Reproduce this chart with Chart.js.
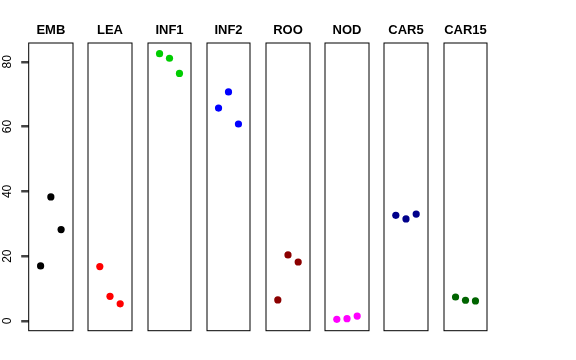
<!DOCTYPE html>
<html><head><meta charset="utf-8">
<script src="https://cdn.jsdelivr.net/npm/chart.js@4"></script>
<style>
body{margin:0;background:#fff;width:576px;height:360px;position:relative;overflow:hidden}
.p{position:absolute;top:0;height:360px}
</style></head><body>
<script>
// ---- data ----
const categories = ['EMB','LEA','INF1','INF2','ROO','NOD','CAR5','CAR15'];
const replicates = [1, 2, 3];
const valEMB   = [17.0, 38.3, 28.2];
const valLEA   = [16.8, 7.6, 5.3];
const valINF1  = [82.5, 81.1, 76.4];
const valINF2  = [65.7, 70.7, 60.8];
const valROO   = [6.5, 20.4, 18.2];
const valNOD   = [0.5, 0.7, 1.5];
const valCAR5  = [32.6, 31.5, 33.0];
const valCAR15 = [7.4, 6.4, 6.2];
const yTicks = [0, 20, 40, 60, 80];
const series = [valEMB, valLEA, valINF1, valINF2, valROO, valNOD, valCAR5, valCAR15];
const colors = ['#000000','#FF0000','#00CD00','#0000FF','#8B0000','#FF00FF','#00008B','#006400'];

// ---- layout ----
const panelLeft0 = 28.7, panelStep = 59.2, panelW = 44.6;
const boxPlugin = {
  id: 'box',
  afterDraw(chart) {
    const a = chart.chartArea, c = chart.ctx;
    c.save(); c.strokeStyle = '#000'; c.lineWidth = 1;
    c.strokeRect(a.left, a.top, a.right - a.left, a.bottom - a.top);
    c.restore();
  }
};

categories.forEach((cat, i) => {
  const pl = panelLeft0 + panelStep * i, pr = pl + panelW;
  const first = i === 0;
  const dl = first ? 0 : Math.floor(pl) - 3;
  const dr = Math.ceil(pr) + 3;
  const div = document.createElement('div');
  div.className = 'p';
  div.style.left = dl + 'px';
  div.style.width = (dr - dl) + 'px';
  const cv = document.createElement('canvas');
  div.appendChild(cv);
  document.body.appendChild(div);
  const yScale = {
    type: 'linear', min: -3.0, max: 85.8,
    display: first,
    afterBuildTicks(s) { s.ticks = yTicks.map(v => ({ value: v })); },
    grid: { display: true, drawOnChartArea: false, drawTicks: true, tickLength: 7.5, tickColor: '#444', tickWidth: 2.5, color: '#444', lineWidth: 2.5 },
    border: { display: false },
    ticks: {
      color: '#000', minRotation: 90, maxRotation: 90, crossAlign: 'center', padding: 7,
      font: { family: 'Liberation Sans, Arial, sans-serif', size: 12 }
    }
  };
  if (first) yScale.afterFit = s => { s.width = panelLeft0; };
  new Chart(cv, {
    type: 'scatter',
    data: {
      datasets: [{
        data: replicates.map((r, k) => ({x: r, y: series[i][k]})),
        backgroundColor: colors[i],
        borderWidth: 0,
        pointRadius: 3.6
      }]
    },
    options: {
      responsive: true, maintainAspectRatio: false, animation: false,
      devicePixelRatio: 1,
      layout: { padding: { left: first ? 0 : pl - dl, right: dr - pr, top: 0, bottom: 360 - 330.7 } },
      plugins: {
        legend: { display: false },
        tooltip: { enabled: false },
        title: {
          display: true, text: cat, fullSize: false, color: '#000',
          font: { family: 'Liberation Sans, Arial, sans-serif', size: 13, weight: 'bold', lineHeight: 1.2 },
          padding: { top: 23, bottom: 4.4 }
        }
      },
      scales: {
        x: { type: 'linear', display: false, min: -0.16, max: 4.16 },
        y: yScale
      }
    },
    plugins: [boxPlugin]
  });
});
</script>
</body></html>
